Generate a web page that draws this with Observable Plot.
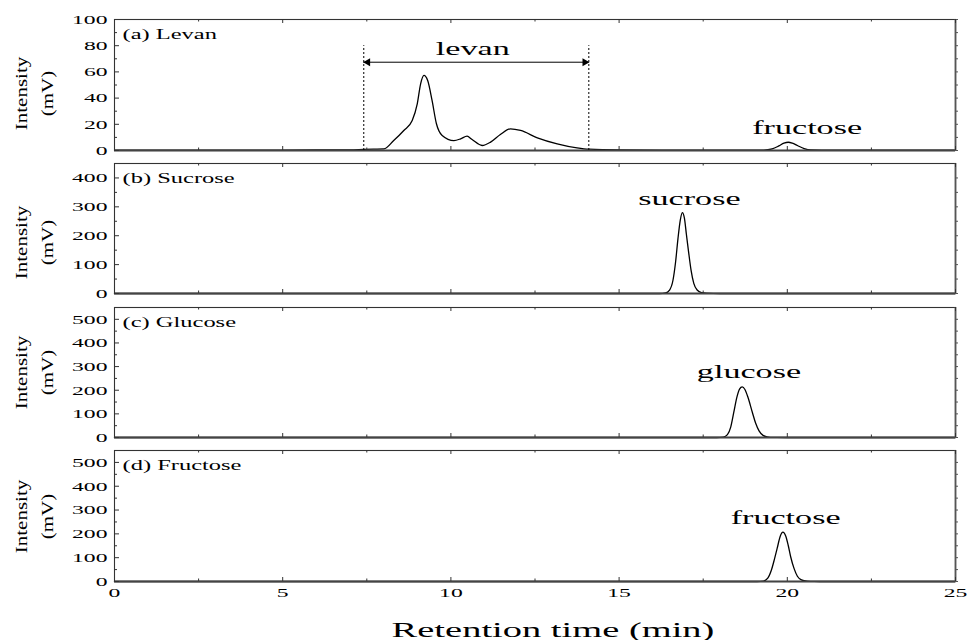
<!DOCTYPE html>
<html><head><meta charset="utf-8">
<script src="https://cdn.jsdelivr.net/npm/d3@7"></script>
<script src="https://cdn.jsdelivr.net/npm/@observablehq/plot@0.6"></script>
<style>
html,body{margin:0;padding:0;background:#fff;}
#chart{width:967px;height:640px;position:relative;overflow:hidden;}
#chart svg{display:block;}
</style></head><body><div id="chart"></div>
<script>
// ---------- data ----------
const levanT = [0, 2, 4, 6, 7.0, 7.41, 7.7, 8.01, 8.30, 8.60, 8.85, 9.00, 9.10, 9.20, 9.31, 9.44, 9.57, 9.74, 10.09, 10.29, 10.48, 10.63, 10.93, 11.18, 11.47, 11.77, 12.07, 12.57, 13.16, 13.75, 14.10, 15, 17, 19.3, 19.55, 19.75, 19.9, 20.03, 20.15, 20.3, 20.5, 20.7, 21.5, 23, 25];
const levanV = [0.3, 0.3, 0.3, 0.4, 0.5, 0.8, 1.0, 1.2, 7.6, 15.3, 22.9, 35.6, 50.9, 57.3, 53.4, 38.2, 20.4, 11.5, 7.6, 8.9, 10.9, 8.4, 3.8, 6.4, 12.2, 16.5, 15.3, 9.7, 5.1, 2.0, 1.0, 0.5, 0.3, 0.3, 1.2, 3.5, 5.6, 6.3, 5.6, 3.8, 1.5, 0.5, 0.3, 0.2, 0.2];

const sucroseT = [0, 10, 16.2, 16.38, 16.5, 16.6, 16.68, 16.75, 16.82, 16.88, 16.94, 17.0, 17.07, 17.14, 17.22, 17.32, 17.45, 17.6, 18, 25];
const sucroseV = [0, 0, 0, 2, 12, 45, 110, 190, 255, 280, 262, 205, 140, 80, 35, 12, 3, 1, 0, 0];

const glucoseT = [0, 10, 17.9, 18.1, 18.22, 18.32, 18.41, 18.5, 18.58, 18.66, 18.74, 18.83, 18.96, 19.06, 19.16, 19.28, 19.4, 19.6, 20, 25];
const glucoseV = [0, 0, 0, 2, 12, 45, 107, 170, 205, 214, 203, 170, 107, 60, 28, 9, 3, 0.5, 0, 0];

const fructoseT = [0, 10, 19.1, 19.29, 19.42, 19.52, 19.62, 19.7, 19.79, 19.87, 19.95, 20.03, 20.1, 20.2, 20.3, 20.42, 20.59, 20.8, 21.2, 25];
const fructoseV = [0, 0, 0, 2, 14, 45, 95, 140, 190, 207, 192, 150, 104, 55, 22, 7, 1.5, 0.3, 0, 0];

const panelLabels = ["(a) Levan", "(b) Sucrose", "(c) Glucose", "(d) Fructose"];
const yMaxes = [100, 450, 550, 550];
const yMajorTicks = [[0, 20, 40, 60, 80, 100], [0, 100, 200, 300, 400], [0, 100, 200, 300, 400, 500], [0, 100, 200, 300, 400, 500]];
const yMinorTicks = [[10, 30, 50, 70, 90], [50, 150, 250, 350], [50, 150, 250, 350, 450], [50, 150, 250, 350, 450]];
const xMajorTicks = [0, 5, 10, 15, 20, 25];
const xMinorTicks = [2.5, 7.5, 12.5, 17.5, 22.5];

const peakNames = [["levan", "fructose"], ["sucrose"], ["glucose"], ["fructose"]];
const peakLabelT = [[10.65, 20.59], [17.09], [18.86], [19.95]];
const peakLabelV = [[73, 12.7], [307], [253], [242]];

const levanBounds = [7.41, 14.10];
const levanBracketTop = 80;
const levanArrowY = 67.4;

const yTitle = ["Intensity", "(mV)"];
const xTitle = "Retention time (min)";

// ---------- layout ----------
const FONT = '"Liberation Serif", "Times New Roman", serif';
const W = 967, ML = 114, MR = 12;
const innerW = W - ML - MR;
const layout = [
  {mt: 19, ih: 131, mb: 7, yLabDy: 8.5},
  {mt: 6, ih: 130, mb: 7, yLabDy: 14},
  {mt: 7, ih: 130, mb: 6, yLabDy: 0},
  {mt: 7, ih: 131, mb: 59, yLabDy: 0.5}
];
const traces = [[levanT, levanV], [sucroseT, sucroseV], [glucoseT, glucoseV], [fructoseT, fructoseV]];

function stretch(svg) {
  d3.select(svg).selectAll("text").each(function () {
    const t = this.getAttribute("transform");
    if (!t) return;
    const s = t.includes("rotate") ? 1.2 : 1.75;
    this.setAttribute("transform", t + ` scale(${s},1)`);
  });
}

const root = document.getElementById("chart");

for (let p = 0; p < 4; p++) {
  const L = layout[p];
  const [T, V] = traces[p];
  const data = T.map((t, i) => ({t, v: V[i]}));
  const labels = peakNames[p].map((name, i) => ({name, t: peakLabelT[p][i], v: peakLabelV[p][i]}));
  const ih = L.ih;
  const marks = [
    Plot.line(data, {x: "t", y: "v", stroke: "#000", strokeWidth: 1.3, curve: "monotone-x"}),
    Plot.frame({stroke: "#333", strokeWidth: 1.1}),
    Plot.ruleY([0], {stroke: "#444", strokeWidth: 2.2}),
    Plot.ruleX([25], {stroke: "#555", strokeWidth: 1.8}),
    Plot.ruleY(yMajorTicks[p], {insetRight: innerW - 5, stroke: "#333"}),
    Plot.ruleY(yMinorTicks[p], {insetRight: innerW - 3, stroke: "#333"}),
    Plot.ruleY([...yMajorTicks[p], ...yMinorTicks[p]], {insetLeft: innerW, insetRight: -3, stroke: "#555"}),
    Plot.ruleX(xMajorTicks, {insetTop: ih - 4, stroke: "#333"}),
    Plot.ruleX(xMinorTicks, {insetTop: ih - 2.5, stroke: "#333"}),
    Plot.ruleX(xMajorTicks, {insetBottom: ih - 4, stroke: "#333"}),
    Plot.ruleX(xMinorTicks, {insetBottom: ih - 2.5, stroke: "#333"}),
    Plot.axisY(yMajorTicks[p], {tickSize: 0, tickPadding: 7, fontSize: 13.5, label: null, tickFormat: (d) => String(d), fill: "#000"}),
    Plot.text([panelLabels[p]], {frameAnchor: "top-left", dx: 8, dy: 19, textAnchor: "start", lineAnchor: "bottom", fontSize: 14, fill: "#000"}),
    Plot.text([yTitle[0]], {frameAnchor: "left", dx: 21 - ML, dy: L.yLabDy, rotate: -90, textAnchor: "middle", lineAnchor: "middle", fontSize: 17.5, fill: "#000"}),
    Plot.text([yTitle[1]], {frameAnchor: "left", dx: 47 - ML, dy: L.yLabDy, rotate: -90, textAnchor: "middle", lineAnchor: "middle", fontSize: 17.5, fill: "#000"}),
    Plot.text(labels, {x: "t", y: "v", text: "name", textAnchor: "middle", lineAnchor: "bottom", fontSize: 19.5, fill: "#000"})
  ];
  if (p === 0) {
    marks.push(
      Plot.ruleX(levanBounds, {y1: 0, y2: levanBracketTop, stroke: "#000", strokeWidth: 1, strokeDasharray: "2,2"}),
      Plot.ruleY([levanArrowY], {x1: levanBounds[0], x2: levanBounds[1], stroke: "#000", strokeWidth: 1}),
      Plot.dot([levanBounds[0]], {x: (d) => d, y: () => levanArrowY, symbol: "triangle", r: 3, rotate: -90, fill: "#000", stroke: null, dx: 4}),
      Plot.dot([levanBounds[1]], {x: (d) => d, y: () => levanArrowY, symbol: "triangle", r: 3, rotate: 90, fill: "#000", stroke: null, dx: -4})
    );
  }
  if (p === 3) {
    marks.push(
      Plot.axisX(xMajorTicks, {tickSize: 0, tickPadding: 6, fontSize: 13.5, label: null, tickFormat: (d) => String(d), fill: "#000"}),
      Plot.text([xTitle], {frameAnchor: "bottom", dx: 18, dy: 55, textAnchor: "middle", lineAnchor: "bottom", fontSize: 22, fill: "#000"})
    );
  }
  const svg = Plot.plot({
    width: W,
    height: L.mt + ih + L.mb,
    marginLeft: ML,
    marginRight: MR,
    marginTop: L.mt,
    marginBottom: L.mb,
    x: {domain: [0, 25], axis: p === 3 ? undefined : null},
    y: {domain: [0, yMaxes[p]]},
    style: {fontFamily: FONT, background: "#fff", color: "#000", overflow: "visible"},
    marks
  });
  stretch(svg);
  root.appendChild(svg);
}
</script>
</body></html>
